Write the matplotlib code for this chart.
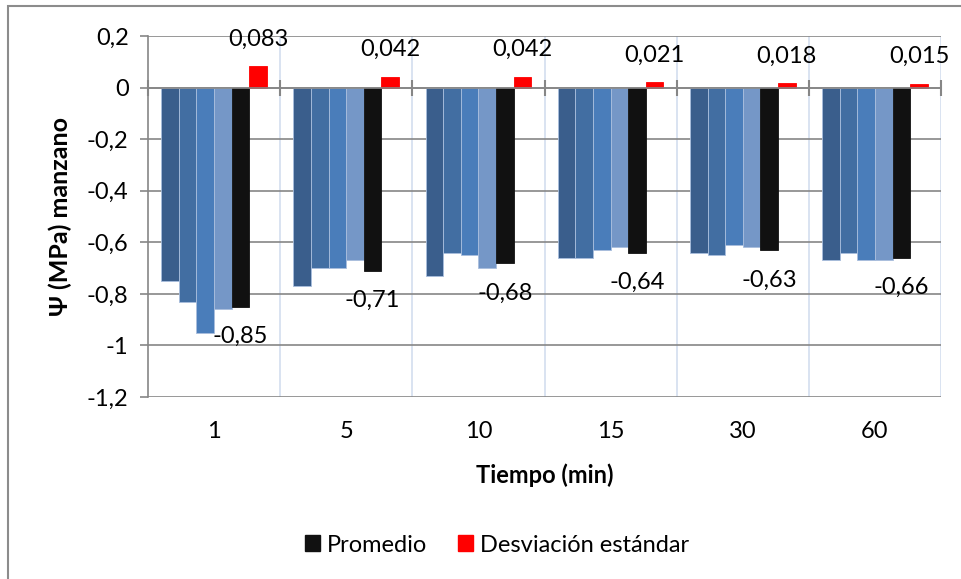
import matplotlib.pyplot as plt
from matplotlib.patches import Patch, Rectangle
from matplotlib.ticker import FuncFormatter, MultipleLocator
import numpy as np

# Data
tiempos = ["1", "5", "10", "15", "30", "60"]
rep1 = [-0.75, -0.77, -0.73, -0.66, -0.64, -0.67]
rep2 = [-0.83, -0.70, -0.64, -0.66, -0.65, -0.64]
rep3 = [-0.95, -0.70, -0.65, -0.63, -0.61, -0.67]
rep4 = [-0.86, -0.67, -0.70, -0.62, -0.62, -0.67]
promedio = [-0.85, -0.71, -0.68, -0.64, -0.63, -0.66]
desviacion = [0.083, 0.042, 0.042, 0.021, 0.018, 0.015]

plt.rcParams['font.family'] = ['Lato', 'DejaVu Sans']
FS = 17

fig = plt.figure(figsize=(9.61, 5.79), dpi=100)
ax = fig.add_axes([148 / 961, 1 - 397 / 579, (941 - 148) / 961, (397 - 36) / 579])

x = np.arange(len(tiempos))
w = 0.8 / 6
series = [rep1, rep2, rep3, rep4, promedio, desviacion]
colors = ['#3A5E8C', '#426EA2', '#4A7DBA', '#7597C7', '#111111', '#FF0000']
bars = []
for j, (vals, c) in enumerate(zip(series, colors)):
    edge = '#A9BEDD' if j < 4 else c
    b = ax.bar(x + (j - 2.5) * w, vals, w, color=c, edgecolor=edge, linewidth=0.6, zorder=3)
    bars.append(b)

# data labels
for rect, v in zip(bars[4], promedio):
    ax.annotate(f"{v:.2f}".replace('.', ','), (rect.get_x() + rect.get_width() / 2, v),
                xytext=(0, -30), textcoords='offset pixels', ha='center', va='center',
                fontsize=FS, zorder=5)
for rect, v in zip(bars[5], desviacion):
    ax.annotate(f"{v:.3f}".replace('.', ','), (rect.get_x() + rect.get_width() / 2, v),
                xytext=(0, 27), textcoords='offset pixels', ha='center', va='center',
                fontsize=FS, zorder=5)

ax.set_xlim(-0.5, len(tiempos) - 0.5)
ax.set_ylim(-1.2, 0.2)
ax.yaxis.set_major_locator(MultipleLocator(0.2))
ax.yaxis.set_major_formatter(FuncFormatter(lambda v, p: f"{round(v, 1):g}".replace('.', ',')))
ax.grid(axis='y', color='#868686', linewidth=1.2, zorder=0)

# vertical separators between groups
ax.set_xticks(x)
ax.set_xticklabels(tiempos)
ax.set_xticks(x + 0.5, minor=True)
ax.grid(axis='x', which='minor', color='#D3DEEF', linewidth=1.2, zorder=0)
ax.tick_params(axis='x', which='both', length=0, pad=17, labelsize=FS)
ax.tick_params(axis='y', length=6, width=1.2, color='#868686', labelsize=FS, pad=8)

for s in ['top', 'right', 'bottom']:
    ax.spines[s].set_visible(False)
ax.spines['left'].set_color('#868686')
ax.spines['left'].set_linewidth(1.2)

# zero axis line with crossing tick marks
ax.axhline(0, color='#868686', linewidth=1.2, zorder=4)
ax.plot(np.r_[x - 0.5, x[-1] + 0.5], np.zeros(len(x) + 1), linestyle='none',
        marker='|', markersize=12, markeredgewidth=1.5, color='#868686', zorder=4, clip_on=False)

ax.set_xlabel("Tiempo (min)", fontsize=FS, fontweight='bold', labelpad=16)
fig.text(60 / 961, 1 - 216 / 579, "Ψ (MPa) manzano", rotation=90, ha='center', va='center',
         fontsize=18, fontweight='bold')

handles = [Patch(color='#111111', label='Promedio'),
           Patch(color='#FF0000', label='Desviación estándar')]
fig.legend(handles=handles, loc='center', bbox_to_anchor=(497 / 961, 1 - 545 / 579), ncol=2,
           frameon=False, fontsize=FS, handlelength=0.65, handleheight=0.65,
           handletextpad=0.3, columnspacing=1.3)

# chart area border (cropped at right and bottom)
fig.add_artist(Rectangle((8 / 961, -0.1), 1.2, 1.1 - 6.5 / 579, transform=fig.transFigure,
                         fill=False, edgecolor='#8C8C8C', linewidth=1.5))

fig.savefig("out.png", dpi=100)
